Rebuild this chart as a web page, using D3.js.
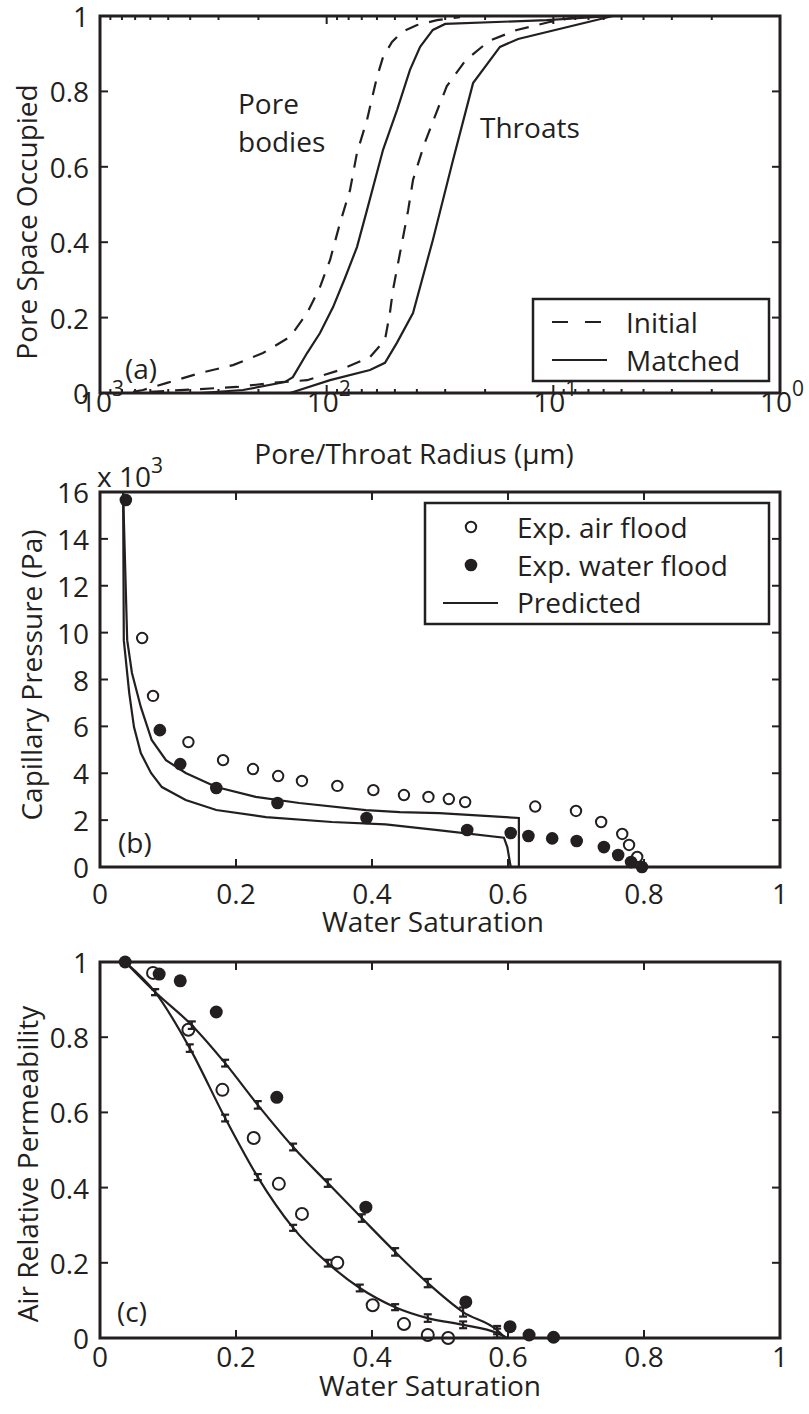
<!DOCTYPE html>
<html>
<head>
<meta charset="utf-8">
<script src="https://cdn.jsdelivr.net/npm/d3@7"></script>
<style>
body { margin: 0; background: #fff; }
text { font-family: "Open Sans", sans-serif; fill: #231f20; }
</style>
</head>
<body>
<svg id="fig" width="809" height="1414"></svg>
<script>
// ---- panel (a): pore/throat size distributions (radius in um, fraction occupied)
var poreInitR = [714, 646, 506, 362, 259, 191, 145, 122, 107, 96.6, 87.3, 78.9, 73.5, 66.4, 60.0, 56.4, 51.5, 46.5, 39.9, 32.6, 25.8];
var poreInitF = [0.003, 0.008, 0.027, 0.053, 0.074, 0.106, 0.149, 0.212, 0.281, 0.353, 0.451, 0.538, 0.637, 0.724, 0.838, 0.891, 0.931, 0.958, 0.976, 0.989, 0.997];
var poreMatchR = [362, 234, 153, 141, 122, 107, 93.7, 83.0, 73.5, 66.4, 56.4, 48.9, 42.9, 38.7, 34.0, 30.0, 10.7, 5.5];
var poreMatchF = [0, 0.008, 0.029, 0.042, 0.106, 0.159, 0.228, 0.305, 0.387, 0.485, 0.645, 0.751, 0.857, 0.918, 0.963, 0.979, 0.989, 1.0];
var throatInitR = [601, 249, 173, 122, 87.3, 64.4, 55.3, 52.6, 51.0, 48.4, 46.0, 43.7, 41.6, 37.2, 33.0, 29.5, 24.5, 19.2, 14.5, 10.4, 8.0];
var throatInitF = [0.003, 0.016, 0.027, 0.034, 0.061, 0.095, 0.141, 0.212, 0.273, 0.345, 0.414, 0.485, 0.565, 0.658, 0.740, 0.814, 0.881, 0.934, 0.963, 0.984, 0.997];
var throatMatchR = [145, 96.6, 64.4, 55.3, 49.0, 41.6, 34.0, 27.7, 22.6, 17.2, 14.3, 5.46];
var throatMatchF = [0, 0.034, 0.061, 0.080, 0.133, 0.212, 0.406, 0.618, 0.822, 0.918, 0.939, 1.0];
var decadeTicks = [1000, 100, 10, 1];
var decadeExp = ["3", "2", "1", "0"];
var fracTicks = [0, 0.2, 0.4, 0.6, 0.8, 1];
var fracLabels = ["0", "0.2", "0.4", "0.6", "0.8", "1"];

// ---- panel (b): capillary pressure (x 10^3 Pa) vs water saturation
var airSw = [0.062, 0.078, 0.130, 0.181, 0.225, 0.262, 0.297, 0.349, 0.402, 0.447, 0.483, 0.513, 0.537, 0.640, 0.700, 0.737, 0.768, 0.778, 0.790];
var airPc = [9.77, 7.30, 5.33, 4.56, 4.18, 3.88, 3.67, 3.46, 3.28, 3.07, 2.99, 2.90, 2.77, 2.58, 2.39, 1.92, 1.41, 0.94, 0.43];
var waterSw = [0.038, 0.088, 0.118, 0.171, 0.261, 0.392, 0.540, 0.604, 0.630, 0.665, 0.701, 0.741, 0.762, 0.781, 0.797];
var waterPc = [15.66, 5.84, 4.39, 3.37, 2.73, 2.09, 1.58, 1.45, 1.32, 1.22, 1.11, 0.85, 0.51, 0.21, 0.0];
var predUpSw = [0.034, 0.040, 0.047, 0.060, 0.076, 0.097, 0.126, 0.171, 0.229, 0.293, 0.391, 0.441, 0.499, 0.616, 0.616];
var predUpPc = [15.96, 9.68, 8.28, 6.83, 5.42, 4.56, 4.01, 3.41, 2.99, 2.73, 2.43, 2.34, 2.30, 2.09, 0];
var predLoSw = [0.034, 0.035, 0.043, 0.050, 0.060, 0.075, 0.091, 0.126, 0.171, 0.244, 0.341, 0.420, 0.500, 0.594, 0.599, 0.604];
var predLoPc = [15.96, 9.68, 7.42, 5.97, 4.86, 4.01, 3.41, 2.86, 2.43, 2.13, 1.92, 1.82, 1.56, 1.25, 0.85, 0];
var satTicks = [0, 0.2, 0.4, 0.6, 0.8, 1];
var satLabels = ["0", "0.2", "0.4", "0.6", "0.8", "1"];
var pcTicks = [0, 2, 4, 6, 8, 10, 12, 14, 16];

// ---- panel (c): air relative permeability vs water saturation
var airKrSw = [0.078, 0.130, 0.180, 0.226, 0.263, 0.297, 0.349, 0.401, 0.447, 0.482, 0.512];
var airKr = [0.971, 0.820, 0.660, 0.532, 0.410, 0.330, 0.200, 0.087, 0.037, 0.008, 0.0];
var waterKrSw = [0.037, 0.087, 0.118, 0.171, 0.260, 0.391, 0.538, 0.603, 0.631, 0.667];
var waterKr = [1.0, 0.968, 0.950, 0.867, 0.640, 0.348, 0.096, 0.030, 0.008, 0.002];
var predKrUpSw = [0.037, 0.081, 0.135, 0.184, 0.232, 0.284, 0.335, 0.385, 0.434, 0.482, 0.534, 0.584, 0.596];
var predKrUp = [1.0, 0.920, 0.832, 0.731, 0.620, 0.508, 0.412, 0.319, 0.229, 0.146, 0.069, 0.021, 0];
var predKrUpErr = [0, 0.008, 0.010, 0.009, 0.010, 0.009, 0.010, 0.010, 0.010, 0.011, 0.012, 0.011, 0];
var predKrLoSw = [0.037, 0.081, 0.132, 0.184, 0.232, 0.284, 0.335, 0.382, 0.434, 0.482, 0.534, 0.584, 0.599];
var predKrLo = [1.0, 0.920, 0.771, 0.585, 0.428, 0.293, 0.199, 0.133, 0.082, 0.053, 0.035, 0.013, 0];
var predKrLoErr = [0, 0.008, 0.010, 0.009, 0.008, 0.008, 0.009, 0.009, 0.008, 0.010, 0.009, 0.012, 0];

var ink = "#231f20";
var left = 100, right = 780;
var svg = d3.select("#fig");

var zip = function(xs, ys) {
    return xs.map(function(v, i) { return [v, ys[i]]; });
};

// box, ticks on all four sides pointing inwards
var drawFrame = function(x, y, xt, yt, top, bottom) {
    var g = svg.append("g");
    xt.forEach(function(t) {
        g.append("line").attr("x1", x(t)).attr("x2", x(t))
            .attr("y1", bottom).attr("y2", bottom - 8)
            .attr("stroke", ink).attr("stroke-width", 2);
        g.append("line").attr("x1", x(t)).attr("x2", x(t))
            .attr("y1", top).attr("y2", top + 8)
            .attr("stroke", ink).attr("stroke-width", 2);
    });
    yt.forEach(function(t) {
        g.append("line").attr("x1", left).attr("x2", left + 8)
            .attr("y1", y(t)).attr("y2", y(t))
            .attr("stroke", ink).attr("stroke-width", 2);
        g.append("line").attr("x1", right).attr("x2", right - 8)
            .attr("y1", y(t)).attr("y2", y(t))
            .attr("stroke", ink).attr("stroke-width", 2);
    });
    g.append("rect")
        .attr("x", left).attr("y", top)
        .attr("width", right - left).attr("height", bottom - top)
        .attr("fill", "none").attr("stroke", ink).attr("stroke-width", 3);
    return g;
};

var yLabels = function(y, ticks, labels) {
    ticks.forEach(function(t, i) {
        svg.append("text").attr("x", left - 11).attr("y", y(t) + 11)
            .attr("text-anchor", "end").attr("font-size", 28)
            .text(labels[i]);
    });
};
var xLabels = function(x, ticks, labels, base) {
    ticks.forEach(function(t, i) {
        svg.append("text").attr("x", x(t)).attr("y", base)
            .attr("text-anchor", "middle").attr("font-size", 28)
            .text(labels[i]);
    });
};
var label = function(str, x, y, rot) {
    var t = svg.append("text").attr("font-size", 28).text(str);
    if (rot) {
        t.attr("text-anchor", "middle")
            .attr("transform", "translate(" + x + "," + y + ") rotate(-90)");
    } else {
        t.attr("x", x).attr("y", y);
    }
    return t;
};

// =============== panel (a)
var aTop = 16, aBottom = 393;
var xa = d3.scaleLog().domain([1000, 1]).range([left, right]);
var ya = d3.scaleLinear().domain([0, 1]).range([aBottom, aTop]);
var minorA = [];
[1, 10, 100].forEach(function(d) {
    for (var k = 2; k <= 9; k++) minorA.push(k * d);
});
var frameA = drawFrame(xa, ya, decadeTicks, fracTicks, aTop, aBottom);
minorA.forEach(function(t) {
    frameA.append("line").attr("x1", xa(t)).attr("x2", xa(t))
        .attr("y1", aBottom).attr("y2", aBottom - 4)
        .attr("stroke", ink).attr("stroke-width", 2);
    frameA.append("line").attr("x1", xa(t)).attr("x2", xa(t))
        .attr("y1", aTop).attr("y2", aTop + 4)
        .attr("stroke", ink).attr("stroke-width", 2);
});
var lineA = d3.line().x(function(d) { return xa(d[0]); }).y(function(d) { return ya(d[1]); });
[
    [poreInitR, poreInitF, true],
    [poreMatchR, poreMatchF, false],
    [throatInitR, throatInitF, true],
    [throatMatchR, throatMatchF, false]
].forEach(function(c) {
    svg.append("path").datum(zip(c[0], c[1]))
        .attr("d", lineA).attr("fill", "none")
        .attr("stroke", ink).attr("stroke-width", 2.2)
        .attr("stroke-dasharray", c[2] ? "14,11" : null);
});
yLabels(ya, fracTicks, fracLabels);
decadeTicks.forEach(function(t, i) {
    var tx = svg.append("text").attr("x", xa(t) + 2).attr("y", 412)
        .attr("text-anchor", "middle").attr("font-size", 28);
    tx.append("tspan").text("10");
    tx.append("tspan").attr("font-size", 21).attr("dy", -16).text(decadeExp[i]);
});
var xl = svg.append("text").attr("x", 414).attr("y", 464)
    .attr("text-anchor", "middle").attr("font-size", 28);
xl.text("Pore/Throat Radius (μm)");
label("Pore Space Occupied", 37, 222, true);
label("(a)", 125, 379);
label("Pore", 238, 114);
label("bodies", 238, 152);
label("Throats", 480, 138);
// legend (a)
svg.append("rect").attr("x", 533).attr("y", 299).attr("width", 236).attr("height", 82)
    .attr("fill", "#fff").attr("stroke", ink).attr("stroke-width", 2.5);
svg.append("line").attr("x1", 552).attr("x2", 602).attr("y1", 322).attr("y2", 322)
    .attr("stroke", ink).attr("stroke-width", 2.2).attr("stroke-dasharray", "16,17");
svg.append("line").attr("x1", 552).attr("x2", 607).attr("y1", 360).attr("y2", 360)
    .attr("stroke", ink).attr("stroke-width", 2.2);
label("Initial", 626, 333);
label("Matched", 626, 371);

// =============== panel (b)
var bTop = 492, bBottom = 867;
var xb = d3.scaleLinear().domain([0, 1]).range([left, right]);
var yb = d3.scaleLinear().domain([0, 16]).range([bBottom, bTop]);
drawFrame(xb, yb, satTicks, pcTicks, bTop, bBottom);
var lineB = d3.line().x(function(d) { return xb(d[0]); }).y(function(d) { return yb(d[1]); });
[[predUpSw, predUpPc], [predLoSw, predLoPc]].forEach(function(c) {
    svg.append("path").datum(zip(c[0], c[1]))
        .attr("d", lineB).attr("fill", "none")
        .attr("stroke", ink).attr("stroke-width", 2.2);
});
svg.append("g").selectAll("circle").data(zip(airSw, airPc)).enter()
    .append("circle")
    .attr("cx", function(d) { return xb(d[0]); })
    .attr("cy", function(d) { return yb(d[1]); })
    .attr("r", 5.2).attr("fill", "#fff").attr("stroke", ink).attr("stroke-width", 2);
svg.append("g").selectAll("circle").data(zip(waterSw, waterPc)).enter()
    .append("circle")
    .attr("cx", function(d) { return xb(d[0]); })
    .attr("cy", function(d) { return yb(d[1]); })
    .attr("r", 6.3).attr("fill", ink);
yLabels(yb, pcTicks, pcTicks.map(String));
xLabels(xb, satTicks, satLabels, 904);
var mult = svg.append("text").attr("x", 97).attr("y", 487).attr("font-size", 28);
mult.append("tspan").text("x 10");
mult.append("tspan").attr("font-size", 21).attr("dy", -14).text("3");
label("Water Saturation", 433, 932).attr("text-anchor", "middle");
label("Capillary Pressure (Pa)", 42, 675, true);
label("(b)", 118, 853);
// legend (b)
svg.append("rect").attr("x", 425).attr("y", 503).attr("width", 344).attr("height", 121)
    .attr("fill", "#fff").attr("stroke", ink).attr("stroke-width", 2.5);
svg.append("circle").attr("cx", 471).attr("cy", 527).attr("r", 5.2)
    .attr("fill", "#fff").attr("stroke", ink).attr("stroke-width", 2);
svg.append("circle").attr("cx", 471).attr("cy", 565).attr("r", 6.3).attr("fill", ink);
svg.append("line").attr("x1", 443).attr("x2", 498).attr("y1", 603).attr("y2", 603)
    .attr("stroke", ink).attr("stroke-width", 2.2);
label("Exp. air flood", 517, 538);
label("Exp. water flood", 517, 576);
label("Predicted", 517, 613);

// =============== panel (c)
var cTop = 962, cBottom = 1338;
var xc = d3.scaleLinear().domain([0, 1]).range([left, right]);
var yc = d3.scaleLinear().domain([0, 1]).range([cBottom, cTop]);
drawFrame(xc, yc, satTicks, fracTicks, cTop, cBottom);
var lineC = d3.line().curve(d3.curveMonotoneX)
    .x(function(d) { return xc(d[0]); }).y(function(d) { return yc(d[1]); });
[[predKrUpSw, predKrUp, predKrUpErr], [predKrLoSw, predKrLo, predKrLoErr]].forEach(function(c) {
    svg.append("path").datum(zip(c[0], c[1]))
        .attr("d", lineC).attr("fill", "none")
        .attr("stroke", ink).attr("stroke-width", 2.2);
    var eb = svg.append("g");
    c[0].forEach(function(s, i) {
        if (!c[2][i]) return;
        var px = xc(s), y0 = yc(c[1][i] - c[2][i]), y1 = yc(c[1][i] + c[2][i]);
        eb.append("line").attr("x1", px).attr("x2", px).attr("y1", y0).attr("y2", y1)
            .attr("stroke", ink).attr("stroke-width", 2.2);
        [y0, y1].forEach(function(yy) {
            eb.append("line").attr("x1", px - 4).attr("x2", px + 4).attr("y1", yy).attr("y2", yy)
                .attr("stroke", ink).attr("stroke-width", 2.2);
        });
    });
});
svg.append("g").selectAll("circle").data(zip(airKrSw, airKr)).enter()
    .append("circle")
    .attr("cx", function(d) { return xc(d[0]); })
    .attr("cy", function(d) { return yc(d[1]); })
    .attr("r", 6).attr("fill", "none").attr("stroke", ink).attr("stroke-width", 2);
svg.append("g").selectAll("circle").data(zip(waterKrSw, waterKr)).enter()
    .append("circle")
    .attr("cx", function(d) { return xc(d[0]); })
    .attr("cy", function(d) { return yc(d[1]); })
    .attr("r", 6.5).attr("fill", ink);
yLabels(yc, fracTicks, fracLabels);
xLabels(xc, satTicks, satLabels, 1367);
label("Water Saturation", 430, 1396).attr("text-anchor", "middle");
label("Air Relative Permeability", 38, 1164, true);
label("(c)", 117, 1322);
</script>
</body>
</html>
